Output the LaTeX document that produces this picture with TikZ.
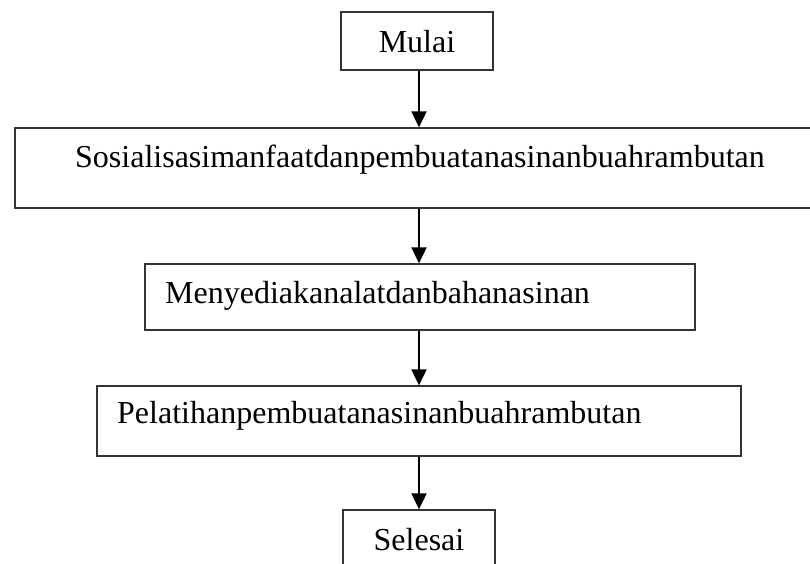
\documentclass[tikz,border=0pt]{standalone}
\usepackage{fontspec}
\setmainfont{Liberation Serif}
\usetikzlibrary{arrows.meta}
\begin{document}
\begin{tikzpicture}[x=1pt,y=-1pt,
  box/.style={draw=black!80,line width=1.3pt,rectangle,inner sep=0pt},
  arr/.style={line width=2pt,-{Triangle[length=16pt,width=15pt]}},
  txt/.style={inner sep=0pt,font=\fontsize{32}{38}\selectfont}]
\useasboundingbox (0,0) rectangle (810,563);
\clip (0,0) rectangle (810,563);
\node[box,minimum width=152pt,minimum height=58pt] (mulai) at (417,41) {};
\node[box,minimum width=800pt,minimum height=80pt] (sos) at (415,168) {};
\node[box,minimum width=550pt,minimum height=66pt] (meny) at (420,297) {};
\node[box,minimum width=644pt,minimum height=70pt] (pel) at (419,421) {};
\node[box,minimum width=152pt,minimum height=66pt] (sel) at (419,543) {};
\node[txt,anchor=base] (t1) at (417,52) {Mulai};
\node[txt,anchor=base west] (t2) at (75,167) {Sosialisasimanfaatdanpembuatanasinanbuahrambutan};
\node[txt,anchor=base west] (t3) at (165,303) {Menyediakanalatdanbahanasinan};
\node[txt,anchor=base west] (t4) at (117,423) {Pelatihanpembuatanasinanbuahrambutan};
\node[txt,anchor=base] (t5) at (419,550) {Selesai};
\coordinate (ax) at (419,0);
\draw[arr] (mulai.south -| ax) -- (sos.north -| ax);
\draw[arr] (sos.south -| ax) -- (meny.north -| ax);
\draw[arr] (meny.south -| ax) -- (pel.north -| ax);
\draw[arr] (pel.south -| ax) -- (sel.north -| ax);
\end{tikzpicture}
\end{document}
